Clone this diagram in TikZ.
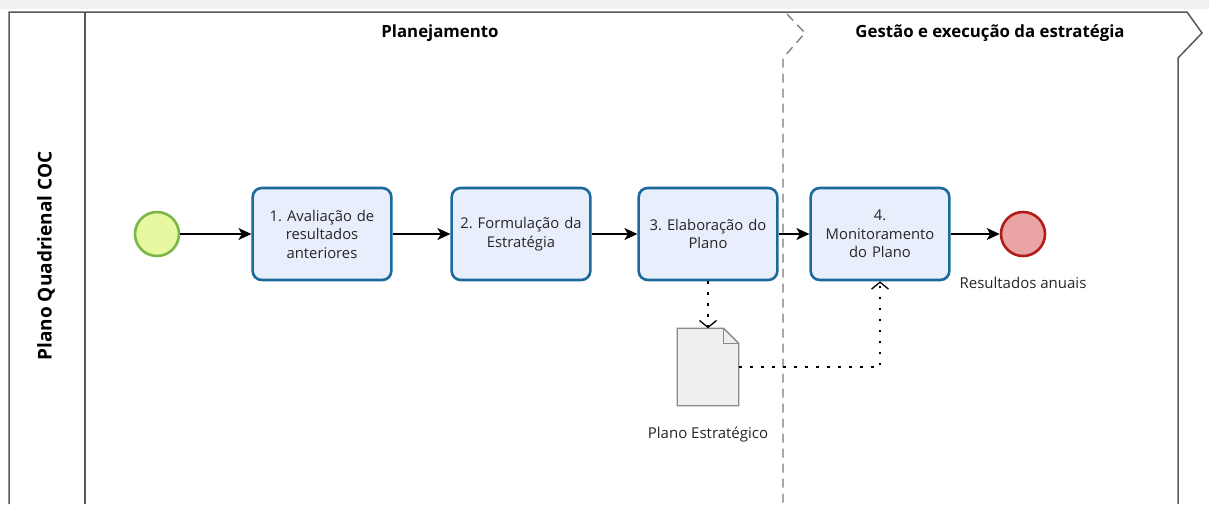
\documentclass[tikz,border=0pt]{standalone}
\usepackage{fontspec}
\setmainfont{Open Sans}
\usepackage{tikz}
\usepackage{xcolor}
\usetikzlibrary{arrows.meta}
\usetikzlibrary{positioning}
\definecolor{taskFill}{HTML}{E8EEFB}
\definecolor{taskLine}{HTML}{1A6A9A}
\definecolor{startFill}{HTML}{E6F8A0}
\definecolor{startLine}{HTML}{7AB648}
\definecolor{endFill}{HTML}{EBA4A4}
\definecolor{endLine}{HTML}{B01C1C}
\definecolor{poolLine}{HTML}{595959}
\definecolor{phaseLine}{HTML}{7A7A7A}
\definecolor{docFill}{HTML}{EFEFEF}
\definecolor{docLine}{HTML}{8A8A8A}
\frenchspacing

\begin{document}
\begin{tikzpicture}[
		x=1pt, y=-1pt,
		flow/.style={-{Stealth[length=13pt, width=12pt, inset=3.5pt]}, draw=black, line width=1.2pt},
		assoc/.style={-{Straight Barb[length=7pt, width=17pt, line width=1.3pt]}, draw=black, line width=2.8pt, dash pattern=on 2.8pt off 8.2pt},
		task/.style={rectangle, rounded corners=9pt, draw=taskLine, line width=2.6pt, fill=taskFill, minimum width=138pt, minimum height=92pt, text width=132pt, align=center, font=\fontsize{14.8}{18.5}\selectfont, text=black!85},
		event/.style={circle, minimum size=44pt, inner sep=0pt, line width=2.6pt},
		docbox/.style={rectangle, minimum width=61pt, minimum height=77pt, inner sep=0pt},
		label text/.style={font=\fontsize{15}{18}\selectfont, text=black!85},
		header/.style={font=\fontsize{16.8}{20}\selectfont\bfseries, text=black},
	]
	\useasboundingbox (0,0) rectangle (1209,504);
	% Window band
	\fill[black!6] (0,0) rectangle (1209,9);
	% Pool and phases
	\draw[poolLine, line width=1.5pt] (9,504) -- (9,12) -- (1187,12) -- (1202,33) -- (1178,58) -- (1178,504);
	\draw[poolLine, line width=1.5pt] (85,12) -- (85,504);
	\draw[phaseLine, line width=1.3pt, dash pattern=on 9pt off 6pt] (787,14) -- (805,33) -- (783,58) -- (783,504);
	\node[header, font=\fontsize{19}{22}\selectfont\bfseries, rotate=90] (lane) at (46,256) {Plano Quadrienal COC};
	\node[header] (planning) at (440,33) {Planejamento};
	\node[header] (execution) at (990,33) {Gestão e execução da estratégia};
	% Events and tasks
	\node[event, draw=startLine, fill=startFill] (start) at (157,234) {};
	\node[task] (task 1) at (322,234) {1. Avaliação de\\resultados\\anteriores};
	\node[task] (task 2) at (521,234) {2. Formulação da\\Estratégia};
	\node[task] (task 3) at (708,234) {3. Elaboração do\\Plano};
	\node[task] (task 4) at (880,234) {4.\\Monitoramento\\do Plano};
	\node[event, draw=endLine, fill=endFill] (end) at (1023,234) {};
	\node[label text, below=16pt of end] (end label) {Resultados anuais};
	% Data object
	\node[docbox] (plano) at (708,367) {};
	\draw[docLine, fill=docFill, line width=1.3pt] (plano.south west) -- (plano.north west) -- ([xshift=-15pt]plano.north east) -- ([yshift=-15pt]plano.north east) -- (plano.south east) -- cycle;
	\draw[docLine, line width=1.3pt] ([xshift=-15pt]plano.north east) -- ([xshift=-15pt, yshift=-15pt]plano.north east) -- ([yshift=-15pt]plano.north east);
	\node[label text, below=18pt of plano] (plano label) {Plano Estratégico};
	% Sequence flows
	\draw[flow] (start) -- (task 1);
	\draw[flow] (task 1) -- (task 2);
	\draw[flow] (task 2) -- (task 3);
	\draw[flow] (task 3) -- (task 4);
	\draw[flow] (task 4) -- (end);
	% Associations
	\draw[assoc] (task 3.south) -- (plano.north);
	\draw[assoc] (plano.east) -| (task 4.south);
\end{tikzpicture}
\end{document}
